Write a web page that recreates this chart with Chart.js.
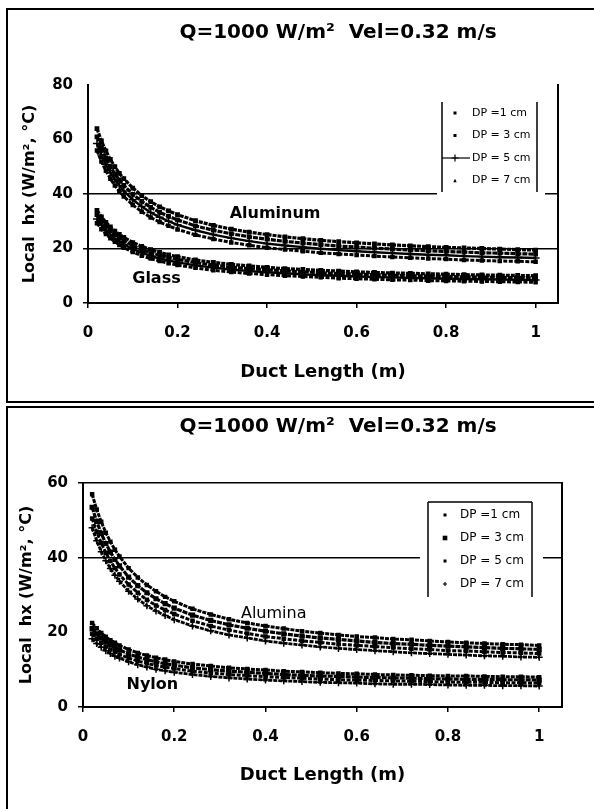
<!DOCTYPE html>
<html><head><meta charset="utf-8">
<script src="https://cdn.jsdelivr.net/npm/chart.js@4.4.1/dist/chart.umd.min.js"></script>
<style>
html,body{margin:0;padding:0;background:#fff;overflow:hidden;width:594px;height:809px;}
.box{position:absolute;border:2px solid #000;background:#fff;}
#box1{left:6px;top:8px;width:660px;height:391px;}
#box2{left:6px;top:406px;width:660px;height:420px;}
canvas{position:absolute;}
#c1{left:8px;top:10px;width:660px;height:391px;}
#c2{left:8px;top:408px;width:660px;height:401px;}
</style></head><body>
<div class="box" id="box1"></div><div class="box" id="box2"></div>
<canvas id="c1" width="660" height="391"></canvas>
<canvas id="c2" width="660" height="401"></canvas>
<script>
const FONT = "'DejaVu Sans', sans-serif";

const xValues = [0.02,0.03,0.04,0.05,0.06,0.07,0.08,0.10,0.12,0.14,0.16,0.18,0.20,0.24,0.28,0.32,0.36,0.40,0.44,0.48,0.52,0.56,0.60,0.64,0.68,0.72,0.76,0.80,0.84,0.88,0.92,0.96,1.00];

// Top chart: Aluminum and Glass, DP = 1, 3, 5, 7 cm
const aluminumDP1 = [64.0,59.5,55.8,52.7,50.0,47.6,45.6,42.2,39.4,37.2,35.3,33.8,32.4,30.2,28.5,27.1,26.0,25.1,24.3,23.6,23.0,22.5,22.1,21.7,21.3,21.0,20.7,20.4,20.2,20.0,19.8,19.6,19.4];
const aluminumDP3 = [61.0,56.7,53.1,50.0,47.4,45.2,43.2,39.9,37.3,35.1,33.3,31.8,30.5,28.3,26.7,25.4,24.3,23.4,22.6,22.0,21.4,20.9,20.5,20.1,19.8,19.4,19.2,18.9,18.7,18.4,18.3,18.1,17.9];
const aluminumDP5 = [58.5,54.3,50.8,47.8,45.3,43.1,41.1,37.9,35.4,33.2,31.5,30.0,28.7,26.7,25.1,23.8,22.7,21.8,21.1,20.5,19.9,19.4,19.0,18.6,18.3,18.0,17.7,17.5,17.2,17.0,16.8,16.7,16.5];
const aluminumDP7 = [56.0,51.9,48.5,45.6,43.1,41.0,39.1,36.0,33.5,31.4,29.7,28.3,27.0,25.0,23.5,22.2,21.2,20.3,19.6,19.0,18.4,18.0,17.6,17.2,16.9,16.6,16.3,16.1,15.8,15.6,15.4,15.3,15.1];
const glassDP1 = [34.0,31.6,29.6,27.9,26.4,25.2,24.1,22.2,20.8,19.6,18.6,17.7,17.0,15.8,14.9,14.2,13.6,13.1,12.6,12.3,12.0,11.7,11.4,11.2,11.0,10.9,10.7,10.6,10.4,10.3,10.2,10.1,10.0];
const glassDP3 = [32.4,30.1,28.1,26.5,25.1,23.9,22.8,21.0,19.6,18.5,17.5,16.7,16.0,14.8,13.9,13.2,12.6,12.2,11.8,11.4,11.1,10.8,10.6,10.4,10.2,10.0,9.9,9.7,9.6,9.5,9.4,9.3,9.2];
const glassDP5 = [30.8,28.6,26.7,25.1,23.7,22.6,21.5,19.8,18.5,17.3,16.4,15.6,14.9,13.8,13.0,12.3,11.7,11.3,10.9,10.5,10.2,10.0,9.7,9.5,9.4,9.2,9.1,8.9,8.8,8.7,8.6,8.5,8.4];
const glassDP7 = [29.3,27.1,25.3,23.8,22.5,21.3,20.3,18.7,17.3,16.3,15.4,14.6,13.9,12.9,12.0,11.4,10.8,10.4,10.0,9.7,9.4,9.1,8.9,8.7,8.5,8.4,8.2,8.1,8.0,7.9,7.8,7.7,7.6];

// Bottom chart: Alumina and Nylon
const aluminaDP1 = [57.0,52.9,49.6,46.7,44.3,42.1,40.3,37.2,34.7,32.7,31.0,29.5,28.3,26.3,24.8,23.5,22.5,21.7,21.0,20.3,19.8,19.3,18.9,18.6,18.2,18.0,17.7,17.4,17.2,17.0,16.8,16.7,16.5];
const aluminaDP3 = [53.5,49.7,46.5,43.8,41.5,39.5,37.8,34.8,32.5,30.6,29.0,27.7,26.5,24.6,23.2,22.0,21.1,20.3,19.6,19.0,18.5,18.1,17.7,17.3,17.0,16.8,16.5,16.3,16.1,15.9,15.7,15.6,15.4];
const aluminaDP5 = [50.5,46.9,43.9,41.3,39.1,37.2,35.5,32.8,30.6,28.7,27.2,26.0,24.9,23.1,21.7,20.6,19.7,18.9,18.3,17.7,17.3,16.8,16.5,16.2,15.9,15.6,15.4,15.1,15.0,14.8,14.6,14.5,14.3];
const aluminaDP7 = [48.0,44.5,41.6,39.2,37.1,35.3,33.7,31.0,28.9,27.1,25.7,24.5,23.4,21.7,20.4,19.3,18.5,17.7,17.1,16.6,16.1,15.7,15.4,15.1,14.8,14.5,14.3,14.1,13.9,13.7,13.6,13.4,13.3];
const nylonDP1 = [22.5,21.1,19.8,18.8,17.9,17.2,16.5,15.4,14.5,13.8,13.2,12.7,12.2,11.5,11.0,10.5,10.2,9.9,9.6,9.4,9.2,9.0,8.9,8.7,8.6,8.5,8.4,8.3,8.3,8.2,8.1,8.1,8.0];
const nylonDP3 = [21.0,19.6,18.5,17.5,16.7,15.9,15.3,14.2,13.4,12.7,12.1,11.6,11.2,10.5,10.0,9.6,9.3,9.0,8.7,8.5,8.3,8.2,8.0,7.9,7.8,7.7,7.6,7.5,7.4,7.4,7.3,7.3,7.2];
const nylonDP5 = [19.6,18.3,17.2,16.2,15.4,14.8,14.1,13.1,12.3,11.7,11.1,10.7,10.3,9.6,9.1,8.7,8.4,8.1,7.9,7.7,7.5,7.3,7.2,7.1,7.0,6.9,6.8,6.7,6.6,6.6,6.5,6.5,6.4];
const nylonDP7 = [18.3,17.0,16.0,15.1,14.3,13.6,13.1,12.1,11.3,10.7,10.1,9.7,9.3,8.7,8.2,7.8,7.5,7.2,7.0,6.8,6.6,6.5,6.4,6.2,6.1,6.1,6.0,5.9,5.8,5.8,5.7,5.7,5.6];

const xTicks = [0, 0.2, 0.4, 0.6, 0.8, 1];
const yTicksTop = [0, 20, 40, 60, 80];
const yTicksBottom = [0, 20, 40, 60];
const legendLabels = ['DP =1 cm', 'DP = 3 cm', 'DP = 5 cm', 'DP = 7 cm'];
const chartTitle = 'Q=1000 W/m\u00B2  Vel=0.32 m/s';
const yTitle = 'Local  hx (W/m\u00B2, \u00B0C)';
const xTitle = 'Duct Length (m)';
const topMaterialLabels = [
  {text: 'Aluminum', x: 0.418, y: 32.7, weight: 'bold'},
  {text: 'Glass', x: 0.153, y: 8.9, weight: 'bold'}
];
const bottomMaterialLabels = [
  {text: 'Alumina', x: 0.418, y: 25.0, weight: 'normal'},
  {text: 'Nylon', x: 0.152, y: 5.9, weight: 'bold'}
];

const topStyles = [
  {pointStyle: 'rect', radius: 2.3, dash: [4, 1], width: 3.2},
  {pointStyle: 'rect', radius: 2.3, dash: [5, 1], width: 3.2},
  {pointStyle: 'cross', radius: 4, dash: [], width: 2.4},
  {pointStyle: 'rect', radius: 2.1, dash: [4, 1.5], width: 3}
];
const bottomStyles = [
  {pointStyle: 'rect', radius: 2.1, dash: [4, 1], width: 3},
  {pointStyle: 'rect', radius: 2.6, dash: [5, 1], width: 3.2},
  {pointStyle: 'rect', radius: 2.1, dash: [4, 1.5], width: 3},
  {pointStyle: 'cross', radius: 3.5, dash: [4, 1], width: 2.8}
];

function makeDataset(label, values, st) {
  return {
    label: label,
    data: xValues.map((x, i) => ({x: x, y: values[i]})),
    showLine: true,
    borderColor: '#000',
    backgroundColor: '#000',
    borderWidth: st.width,
    borderDash: st.dash,
    pointStyle: st.pointStyle,
    pointRadius: st.radius,
    pointBorderWidth: 1.5,
    pointBorderColor: '#000',
    pointBackgroundColor: '#000'
  };
}

function drawMarker(ctx, m, x, y) {
  ctx.save();
  ctx.fillStyle = '#000'; ctx.strokeStyle = '#000'; ctx.lineWidth = 1.2;
  if (m.line) {
    ctx.beginPath(); ctx.moveTo(m.line[0], y); ctx.lineTo(m.line[1], y); ctx.stroke();
  }
  if (m.style === 'rect') {
    ctx.fillRect(x - m.r, y - m.r, 2 * m.r, 2 * m.r);
  } else if (m.style === 'cross') {
    ctx.beginPath(); ctx.moveTo(x - m.r, y); ctx.lineTo(x + m.r, y);
    ctx.moveTo(x, y - m.r); ctx.lineTo(x, y + m.r); ctx.stroke();
  } else if (m.style === 'tri') {
    ctx.beginPath(); ctx.moveTo(x - m.r, y + m.r); ctx.lineTo(x + m.r, y + m.r); ctx.lineTo(x, y - m.r); ctx.closePath(); ctx.fill();
  }
  ctx.restore();
}

const boxLegend = {
  id: 'boxLegend',
  afterDraw(chart, args, o) {
    if (!o || !o.labels) return;
    const ctx = chart.ctx;
    ctx.save();
    ctx.fillStyle = '#fff';
    ctx.fillRect(o.fill[0], o.fill[1], o.fill[2], o.fill[3]);
    ctx.strokeStyle = '#000'; ctx.lineWidth = 1.5;
    ctx.beginPath();
    ctx.moveTo(o.left, o.top); ctx.lineTo(o.left, o.bottom);
    ctx.moveTo(o.right, o.top); ctx.lineTo(o.right, o.bottom);
    if (o.topLine) { ctx.moveTo(o.left, o.top); ctx.lineTo(o.right, o.top); }
    ctx.stroke();
    ctx.font = o.fontSize + 'px ' + FONT;
    ctx.textBaseline = 'middle'; ctx.textAlign = 'left';
    o.labels.forEach((txt, i) => {
      const y = o.rowY0 + i * o.rowStep;
      drawMarker(ctx, o.markers[i], o.markerX, y);
      ctx.fillStyle = '#000';
      ctx.fillText(txt, o.textX, y);
    });
    ctx.restore();
  }
};

const matLabels = {
  id: 'matLabels',
  afterDatasetsDraw(chart, args, o) {
    if (!o || !o.items) return;
    const ctx = chart.ctx, xs = chart.scales.x, ys = chart.scales.y;
    ctx.save();
    ctx.fillStyle = '#000'; ctx.textAlign = 'center'; ctx.textBaseline = 'middle';
    o.items.forEach(it => {
      ctx.font = it.weight + ' 16px ' + FONT;
      ctx.fillText(it.text, xs.getPixelForValue(it.x), ys.getPixelForValue(it.y));
    });
    ctx.restore();
  }
};

function makeChart(id, cfg) {
  return new Chart(document.getElementById(id), {
    type: 'scatter',
    data: {datasets: cfg.datasets},
    options: {
      responsive: false, animation: false, devicePixelRatio: 1, events: [],
      layout: {padding: 0},
      plugins: {
        legend: {display: false},
        tooltip: {enabled: false},
        title: {display: true, text: chartTitle, color: '#000',
          font: {family: FONT, size: 20, weight: 'bold', lineHeight: 1.2},
          padding: {top: cfg.titlePadTop, bottom: cfg.titlePadBottom}},
        boxLegend: cfg.legend,
        matLabels: {items: cfg.labels}
      },
      scales: {
        x: {
          type: 'linear', position: 'bottom', min: 0, max: 1.05, bounds: 'data',
          afterBuildTicks: s => { s.ticks = xTicks.map(v => ({value: v})); },
          afterFit: s => { s.height = cfg.xHeight; },
          grid: {drawOnChartArea: false, drawTicks: true, tickLength: 5, color: '#000', lineWidth: 1.5},
          border: {display: true, color: '#000', width: 2},
          ticks: {color: '#000', font: {family: FONT, size: 15, weight: 'bold'}, padding: 16, maxRotation: 0, callback: v => String(v)},
          title: {display: true, text: xTitle, color: '#000', font: {family: FONT, size: 18, weight: 'bold'}, padding: {top: 0, bottom: cfg.xTitlePad}}
        },
        y: {
          type: 'linear', position: 'left', min: 0, max: cfg.yMax, bounds: 'data',
          afterBuildTicks: s => { s.ticks = cfg.yTicks.map(v => ({value: v})); },
          afterFit: s => { s.width = cfg.yWidth; },
          grid: {color: c => (c.tick && cfg.gridValues.includes(c.tick.value)) ? '#000' : 'rgba(0,0,0,0)', lineWidth: 1.5, tickLength: 5, drawTicks: true},
          border: {display: true, color: '#000', width: 2},
          ticks: {color: '#000', font: {family: FONT, size: 15, weight: 'bold'}, padding: 10, callback: v => String(v)},
          title: {display: true, text: yTitle, color: '#000', font: {family: FONT, size: 16, weight: 'bold'}, padding: {top: cfg.yTitlePad, bottom: 0}}
        },
        y2: {
          type: 'linear', position: 'right', display: true,
          afterFit: s => { s.width = cfg.y2Width; },
          grid: {display: false}, ticks: {display: false},
          border: {display: true, color: '#000', width: 2}
        }
      }
    },
    plugins: [matLabels, boxLegend]
  });
}

makeChart('c1', {
  datasets: [
    makeDataset(legendLabels[0], aluminumDP1, topStyles[0]),
    makeDataset(legendLabels[1], aluminumDP3, topStyles[1]),
    makeDataset(legendLabels[2], aluminumDP5, topStyles[2]),
    makeDataset(legendLabels[3], aluminumDP7, topStyles[3]),
    makeDataset(legendLabels[0], glassDP1, topStyles[0]),
    makeDataset(legendLabels[1], glassDP3, topStyles[1]),
    makeDataset(legendLabels[2], glassDP5, topStyles[2]),
    makeDataset(legendLabels[3], glassDP7, topStyles[3])
  ],
  titlePadTop: 10.5, titlePadBottom: 40.5,
  yWidth: 80, y2Width: 110, xHeight: 98, yTitlePad: 12.4, xTitlePad: 18.2,
  yMax: 80, yTicks: yTicksTop, gridValues: [0, 20, 40],
  labels: topMaterialLabels,
  legend: {
    labels: legendLabels, fill: [429, 90, 108, 96], left: 434, right: 529, top: 92, bottom: 182, topLine: false,
    rowY0: 103, rowStep: 22.5, markerX: 447, textX: 464, fontSize: 11,
    markers: [{style: 'rect', r: 1.5}, {style: 'rect', r: 1.5}, {style: 'cross', r: 3.5, line: [434, 462]}, {style: 'tri', r: 1.7}]
  }
});

makeChart('c2', {
  datasets: [
    makeDataset(legendLabels[0], aluminaDP1, bottomStyles[0]),
    makeDataset(legendLabels[1], aluminaDP3, bottomStyles[1]),
    makeDataset(legendLabels[2], aluminaDP5, bottomStyles[2]),
    makeDataset(legendLabels[3], aluminaDP7, bottomStyles[3]),
    makeDataset(legendLabels[0], nylonDP1, bottomStyles[0]),
    makeDataset(legendLabels[1], nylonDP3, bottomStyles[1]),
    makeDataset(legendLabels[2], nylonDP5, bottomStyles[2]),
    makeDataset(legendLabels[3], nylonDP7, bottomStyles[3])
  ],
  titlePadTop: 7, titlePadBottom: 44,
  yWidth: 75, y2Width: 106, xHeight: 102, yTitlePad: 9.4, xTitlePad: 23.2,
  yMax: 60, yTicks: yTicksBottom, gridValues: [0, 40, 60],
  labels: bottomMaterialLabels,
  legend: {
    labels: legendLabels, fill: [412, 90, 123, 102], left: 420, right: 524, top: 94, bottom: 189, topLine: true,
    rowY0: 107, rowStep: 23, markerX: 437, textX: 452, fontSize: 12,
    markers: [{style: 'rect', r: 1.5}, {style: 'rect', r: 2.3}, {style: 'rect', r: 1.5}, {style: 'cross', r: 2}]
  }
});
</script></body></html>
